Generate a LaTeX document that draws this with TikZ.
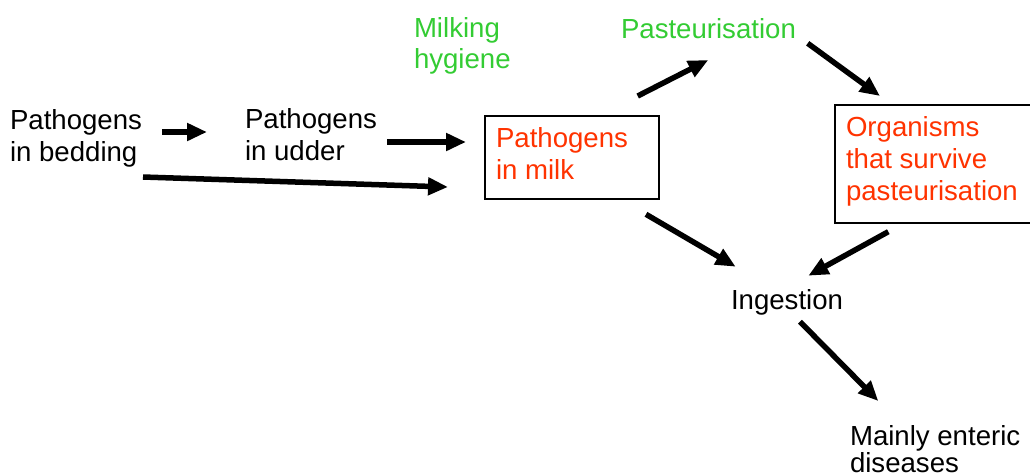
\documentclass[tikz,border=0pt]{standalone}
\usepackage{fontspec}
\setmainfont{Liberation Sans}
\usetikzlibrary{arrows.meta,calc}
\definecolor{lbgreen}{RGB}{51,204,51}
\definecolor{lbred}{RGB}{255,51,0}
\tikzset{
  txt/.style={inner sep=0pt, outer sep=0pt, align=left, anchor=base west},
  box/.style={draw=black, line width=1.6pt, inner sep=0pt, anchor=north west},
  arr/.style={line width=5.5pt, -{Triangle[length=20pt,width=17pt]}},
}
\newcommand{\fs}[1]{\fontsize{27.6}{#1}\selectfont}
\begin{document}
\begin{tikzpicture}[x=1pt,y=-1pt]
\useasboundingbox[fill=white] (0,0) rectangle (1030,475);

% base west = baseline of the last line
\node[txt, font=\fs{32}] (bed) at (10,161.5) {Pathogens\\in bedding};
\node[txt, font=\fs{32}] (udder) at (245,160.5) {Pathogens\\in udder};
\node[txt, font=\fs{31}, text=lbgreen] (hyg) at (414,68) {Milking\\hygiene};
\node[txt, font=\fs{32}, text=lbgreen] (past) at (621,38) {Pasteurisation};

\node[box, minimum width=174pt, minimum height=83pt] (milk) at (484,115) {};
\node[txt, font=\fs{31.5}, text=lbred] (milktext) at ($(milk.north west)+(12,64.2)$) {Pathogens\\in milk};

\node[box, minimum width=198pt, minimum height=118pt] (org) at (834,104) {};
\node[txt, font=\fs{32}, text=lbred] (orgtext) at ($(org.north west)+(12,96.7)$) {Organisms\\that survive\\pasteurisation};

\node[txt, font=\fs{32}] (ing) at (731,309) {Ingestion};
\node[txt, font=\fs{27.5}] (dis) at (850,472.5) {Mainly enteric\\diseases};

\draw[arr] ($(bed.base west)+(152,-29.5)$) -- ($(udder.base west)+(-38,-28.5)$);
\draw[arr] ($(udder.base west)+(142,-18.5)$) -- ($(milk.north west)+(-18,27)$);
\draw[arr] ($(bed.base west)+(133,15.5)$) -- ($(milk.north west)+(-36,72)$);
\draw[arr] ($(milk.north west)+(153.7,-19)$) -- ($(past.base west)+(87.3,22)$);
\draw[arr] ($(past.base west)+(186.7,5.3)$) -- ($(org.north west)+(46,-8)$);
\draw[arr] ($(milk.north west)+(162,99.3)$) -- ($(ing.base west)+(4.7,-42.3)$);
\draw[arr] ($(org.north west)+(54.3,127.7)$) -- ($(ing.base west)+(77.3,-33.3)$);
\draw[arr] ($(ing.base west)+(69,12.7)$) -- ($(dis.base west)+(28.3,-71.5)$);
\end{tikzpicture}
\end{document}
